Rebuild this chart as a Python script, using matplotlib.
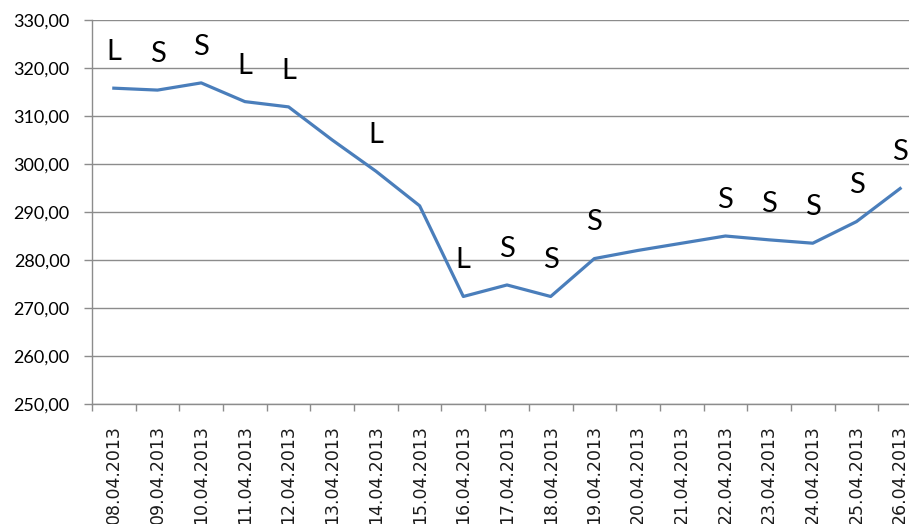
import numpy as np
import matplotlib.pyplot as plt

dates = ['08.04.2013', '09.04.2013', '10.04.2013', '11.04.2013', '12.04.2013',
         '13.04.2013', '14.04.2013', '15.04.2013', '16.04.2013', '17.04.2013',
         '18.04.2013', '19.04.2013', '20.04.2013', '21.04.2013', '22.04.2013',
         '23.04.2013', '24.04.2013', '25.04.2013', '26.04.2013']
prices = [315.8, 315.4, 316.9, 313.0, 311.9,
          305.0, 298.5, 291.3, 272.4, 274.8,
          272.4, 280.3, 282.0, 283.5, 285.0,
          284.2, 283.5, 288.0, 294.9]
signals = ['L', 'S', 'S', 'L', 'L',
           '', 'L', '', 'L', 'S',
           'S', 'S', '', '', 'S',
           'S', 'S', 'S', 'S']

fig = plt.figure(figsize=(9.09, 5.24), dpi=100)
ax = fig.add_axes([0.1012, 0.229, 0.9131, 0.7328])

x = np.arange(len(dates))
ax.plot(x, prices, color='#4a7ebb', lw=2.3, solid_joinstyle='round')

for xi, yi, s in zip(x, prices, signals):
    if s:
        ax.annotate(s, (xi, yi), xytext=(0, 26), textcoords='offset points',
                    ha='center', va='center', fontsize=21, family='Lato')

ax.set_xlim(-0.5, len(dates) - 0.5)
ax.set_ylim(250, 330)
ax.set_yticks(np.arange(250, 331, 10))
ax.set_yticklabels(['%d,00' % v for v in range(250, 331, 10)], family='Lato', fontsize=13)
ax.grid(axis='y', color='#8c8c8c', lw=1.0)
ax.set_axisbelow(True)

# tick marks between categories, labels at centres
ax.set_xticks(np.arange(-0.5, len(dates), 1.0))
ax.set_xticklabels([])
ax.set_xticks(x, minor=True)
ax.set_xticklabels(dates, minor=True, rotation=90, fontsize=12.5, family='DejaVu Sans',
                   va='top', ha='center', color='#1a1a1a')
ax.tick_params(axis='x', which='major', length=5, color='#8c8c8c', width=1)
ax.tick_params(axis='x', which='minor', length=0, pad=15)
ax.tick_params(axis='y', length=6, color='#8c8c8c', width=1, pad=10)

for side in ['top', 'right']:
    ax.spines[side].set_visible(False)
for side in ['left', 'bottom']:
    ax.spines[side].set_color('#8c8c8c')
    ax.spines[side].set_linewidth(1)

fig.savefig('out.png', dpi=100)
